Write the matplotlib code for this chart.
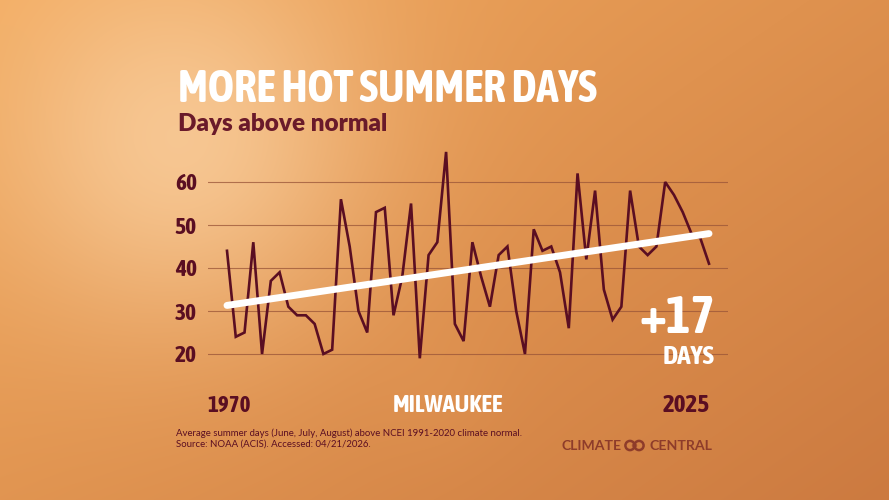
import numpy as np
import matplotlib
matplotlib.use("Agg")
import matplotlib.pyplot as plt
from matplotlib import font_manager as fm
from matplotlib.patches import Circle

# ---------------- data ----------------
years = list(range(1970, 2026))
days_above = [44, 24, 25, 46, 20, 37, 39, 31, 29, 29,
              27, 20, 21, 56, 45, 30, 25, 53, 54, 29,
              38, 55, 19, 43, 46, 67, 27, 23, 46, 38,
              31, 43, 45, 30, 20, 49, 44, 45, 39, 26,
              62, 42, 58, 35, 28, 31, 58, 45, 43, 45,
              60, 57, 53, 48, 47, 41]
trend_years = [1970, 2025]
trend_values = [31.3, 48.0]
y_ticks = [20, 30, 40, 50, 60]
title = "MORE HOT SUMMER DAYS"
subtitle = "Days above normal"
city = "MILWAUKEE"
change_label = "+17"
change_unit = "DAYS"
footnote_1 = "Average summer days (June, July, August) above NCEI 1991-2020 climate normal."
footnote_2 = "Source: NOAA (ACIS). Accessed: 04/21/2026."

# ---------------- styling ----------------
W, H = 889, 500
DPI = 100
MAROON = "#5a0e22"
SUB = "#6a1a2a"
names = {f.name for f in fm.fontManager.ttflist}

# pick a condensed family if one is installed
COND, COND_STRETCH = "DejaVu Sans", "normal"
cands = [f for f in fm.fontManager.ttflist
         if ("Narrow" in f.name or "Condensed" in f.name or "Compressed" in f.name)]
if cands:
    COND = sorted(cands, key=lambda f: (0 if "Bold" in f.fname else 1, f.name))[0].name
else:
    cond_stretch = [f for f in fm.fontManager.ttflist
                    if str(f.stretch) in ("condensed", "semi-condensed", "extra-condensed", "ultra-condensed")
                    or (isinstance(f.stretch, int) and f.stretch < 500)]
    if cond_stretch:
        COND = cond_stretch[0].name
        COND_STRETCH = "condensed"
SANS = "Lato" if "Lato" in names else "DejaVu Sans"
COND_KW = dict(fontfamily=COND, fontstretch=COND_STRETCH, fontweight="bold")

fig = plt.figure(figsize=(W / DPI, H / DPI), dpi=DPI)

# background gradient
bg = fig.add_axes([0, 0, 1, 1])
yy, xx = np.mgrid[0:H, 0:W].astype(float)
t = np.clip((xx / W) * 0.55 + (yy / H) * 0.45, 0, 1)[..., None]
c0 = np.array([242, 170, 94]) / 255
c1 = np.array([204, 122, 64]) / 255
img = c0 * (1 - t) + c1 * t
d2 = ((xx - 180) ** 2 + (yy - 140) ** 2)
glow = np.exp(-d2 / (2 * 130.0 ** 2))[..., None]
glow_c = np.array([250, 208, 160]) / 255
img = img * (1 - 0.8 * glow) + glow_c * 0.8 * glow
d3 = ((xx - 440) ** 2 + (yy - 395) ** 2)
blob = np.exp(-d3 / (2 * 45.0 ** 2))[..., None] * 0.10
img = img * (1 - blob) + np.array([240, 170, 100]) / 255 * blob
bg.imshow(np.clip(img, 0, 1), extent=[0, W, H, 0], aspect="auto", zorder=0)
bg.set_xlim(0, W)
bg.set_ylim(H, 0)
bg.axis("off")

# chart axes: gridlines from px 208..728, data x 1970->227px, 2025->709px
px_per_year = (709 - 227) / 55.0
x_left = 1970 - (227 - 208) / px_per_year
x_right = 2025 + (728 - 709) / px_per_year
px_per_unit = 4.3
ax_top, ax_bot = 140, 370
y_top = 60 + (182 - ax_top) / px_per_unit
y_bot = 20 - (ax_bot - 354) / px_per_unit
ax = fig.add_axes([208 / W, 1 - ax_bot / H, (728 - 208) / W, (ax_bot - ax_top) / H])
ax.patch.set_alpha(0)
ax.set_xlim(x_left, x_right)
ax.set_ylim(y_bot, y_top)
for s in ax.spines.values():
    s.set_visible(False)
ax.set_xticks([])
ax.set_yticks(y_ticks)
ax.tick_params(axis="y", length=0, pad=8, labelcolor=MAROON)
ax.yaxis.grid(True, color="#9a5538", linewidth=0.8, alpha=0.75)
ax.set_axisbelow(True)

ax.plot(years, days_above, color=MAROON, linewidth=1.9, solid_joinstyle="miter", zorder=3)
ax.plot(trend_years, trend_values, color="white", linewidth=5.0, solid_capstyle="round", zorder=4)

renderer = fig.canvas.get_renderer()


def fit_text(x, y, s, width_px, **kw):
    txt = fig.text(x / W, 1 - y / H, s, **kw)
    bb = txt.get_window_extent(renderer)
    if bb.width > 0:
        txt.set_fontsize(txt.get_fontsize() * width_px / bb.width)
    return txt


# y tick labels sized to the reference width of "60" (~22 px)
for lab in ax.get_yticklabels():
    lab.set_fontfamily(COND)
    lab.set_fontstretch(COND_STRETCH)
    lab.set_fontweight("bold")
    lab.set_fontsize(17)
probe = fig.text(0, 0, "60", fontsize=17, **COND_KW)
w60 = probe.get_window_extent(renderer).width
probe.remove()
for lab in ax.get_yticklabels():
    lab.set_fontsize(min(17, 17 * 22.0 / w60))

# titles
fit_text(178, 102, title, 419, fontsize=40, color="white", ha="left", va="baseline", **COND_KW)
fit_text(178, 131, subtitle, 210, fontsize=17, fontfamily=SANS, fontweight="heavy",
         color=SUB, ha="left", va="baseline")

# x labels
fit_text(229, 412, "1970", 43, fontsize=20, color=MAROON, ha="center", va="baseline", **COND_KW)
fit_text(686, 412, "2025", 47, fontsize=20, color=MAROON, ha="center", va="baseline", **COND_KW)
fit_text(448, 412, city, 110, fontsize=20, color="white", ha="center", va="baseline", **COND_KW)

# change annotation
fit_text(715, 333, change_label, 76, fontsize=44, color="white", ha="right", va="baseline", **COND_KW)
fit_text(714, 364, change_unit, 52, fontsize=22, color="white", ha="right", va="baseline", **COND_KW)

# footnote
fn1 = fit_text(176, 436, footnote_1, 344, fontsize=6.5, fontfamily=SANS, color=MAROON,
               ha="left", va="baseline")
fig.text(176 / W, 1 - 447 / H, footnote_2, fontsize=fn1.get_fontsize(), fontfamily=SANS,
         color=MAROON, ha="left", va="baseline")

# logo
LOGO = "#8e3c2a"
fit_text(562, 450, "CLIMATE", 60, fontsize=8, fontfamily=SANS, fontweight="bold",
         color=LOGO, ha="left", va="baseline")
fit_text(712, 450, "CENTRAL", 63, fontsize=8, fontfamily=SANS, fontweight="bold",
         color=LOGO, ha="right", va="baseline")
for cx in (630, 639):
    bg.add_patch(Circle((cx, 445.5), 4.6, fill=False, edgecolor=LOGO, linewidth=1.8, zorder=5))
bg.add_patch(Circle((634.5, 445.5), 2.0, color=LOGO, alpha=0.6, zorder=5))

fig.savefig("out.png", dpi=DPI)
